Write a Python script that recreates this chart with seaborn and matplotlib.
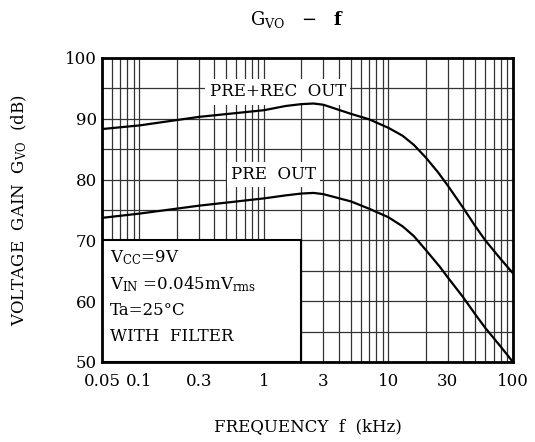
import seaborn as sns
import matplotlib.pyplot as plt
import matplotlib.ticker as mticker
from matplotlib.patches import Rectangle
import pandas as pd

# valores
freq_prerec = [0.05, 0.1, 0.3, 1, 1.5, 2, 2.5, 3, 5, 7, 10, 13, 16, 20, 25, 30, 40, 50, 60, 80, 100]
gain_prerec = [88.3, 88.9, 90.3, 91.4, 92.1, 92.4, 92.5, 92.3, 90.8, 89.9, 88.5, 87.2, 85.7, 83.6, 81.2, 79.0, 75.3, 72.3, 70.0, 66.9, 64.6]

freq_pre = [0.05, 0.1, 0.3, 1, 1.5, 2, 2.5, 3, 5, 7, 10, 13, 16, 20, 26, 30, 40, 50, 60, 80, 100]
gain_pre = [73.7, 74.4, 75.7, 76.9, 77.4, 77.7, 77.8, 77.6, 76.4, 75.2, 73.8, 72.3, 70.7, 68.4, 65.6, 63.9, 60.6, 57.8, 55.6, 52.5, 50.0]

xticks = [0.05, 0.1, 0.3, 1, 3, 10, 30, 100]
xticklabels = ["0.05", "0.1", "0.3", "1", "3", "10", "30", "100"]
yticks = [50, 60, 70, 80, 90, 100]

df = pd.concat([
    pd.DataFrame({"f": freq_prerec, "g": gain_prerec, "s": "PRE+REC OUT"}),
    pd.DataFrame({"f": freq_pre, "g": gain_pre, "s": "PRE OUT"}),
])

sns.set_style("white")
plt.rcParams['font.family'] = ['DejaVu Serif']
plt.rcParams['mathtext.fontset'] = 'dejavuserif'
plt.rcParams['mathtext.default'] = 'regular'
plt.rcParams['text.color'] = 'black'
plt.rcParams['axes.labelcolor'] = 'black'

fig = plt.figure(figsize=(5.35, 4.42), dpi=100)
ax = fig.add_axes([0.1907, 0.181, 0.768, 0.688])

sns.lineplot(data=df, x="f", y="g", units="s", estimator=None, color="black",
             lw=1.6, ax=ax, zorder=4, sort=False)

ax.set_xscale("log")
ax.set_xlim(0.05, 100)
ax.set_ylim(50, 100)
ax.xaxis.set_major_locator(mticker.FixedLocator(xticks))
ax.xaxis.set_major_formatter(mticker.FixedFormatter(xticklabels))
ax.xaxis.set_minor_locator(mticker.LogLocator(base=10, subs=range(1, 10), numticks=20))
ax.xaxis.set_minor_formatter(mticker.NullFormatter())
ax.set_yticks(yticks)
ax.yaxis.set_minor_locator(mticker.MultipleLocator(5))

ax.set_axisbelow(True)
ax.grid(True, which="both", color="#333333", lw=0.9)
ax.tick_params(which="both", direction="in", length=0, labelsize=12, colors="black")
ax.tick_params(axis="x", pad=8)
for sp in ax.spines.values():
    sp.set_linewidth(2)
    sp.set_color("black")

# recuadro de condiciones
ax.add_patch(Rectangle((0.05, 50), 2 - 0.05, 20, facecolor="white", edgecolor="black",
                       lw=1.5, zorder=1))
cond = ["V$_{CC}$=9V", "V$_{IN}$ =0.045mV$_{rms}$", "Ta=25°C", "WITH  FILTER"]
for i, t in enumerate(cond):
    ax.text(0.02, 0.342 - i * 0.086, t, transform=ax.transAxes, fontsize=12,
            va="center", ha="left", zorder=2)

ax.text(1.29, 94.4, "PRE+REC  OUT", fontsize=12, ha="center", va="center", zorder=2,
        bbox=dict(facecolor="white", edgecolor="none", pad=3))
ax.text(1.2, 80.8, "PRE  OUT", fontsize=12, ha="center", va="center", zorder=2,
        bbox=dict(facecolor="white", edgecolor="none", pad=3))

ax.set_xlabel("FREQUENCY  f  (kHz)", fontsize=12, labelpad=20)
ax.set_ylabel("VOLTAGE  GAIN  G$_{VO}$  (dB)", fontsize=12, labelpad=26)
fig.text(0.555, 0.955, "G$_{VO}$   $-$   $\\mathbf{f}$", fontsize=13, ha="center", va="center")

fig.savefig("out.png", dpi=100)
